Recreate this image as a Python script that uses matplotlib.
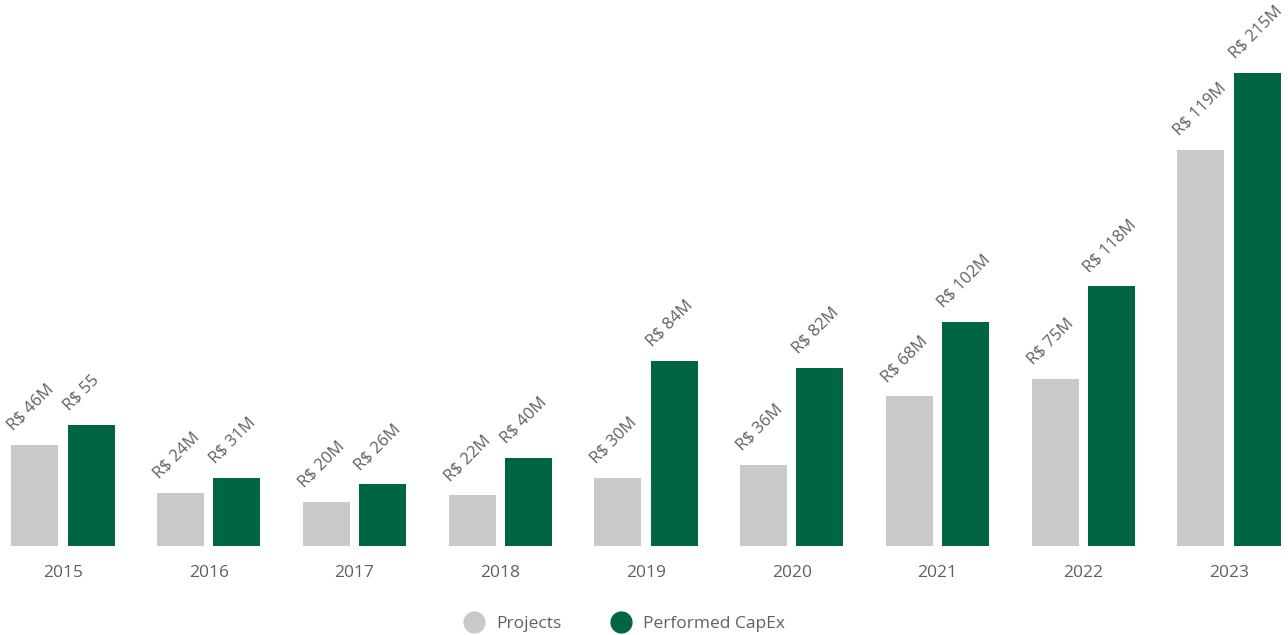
import numpy as np
import matplotlib
matplotlib.use("Agg")
import matplotlib.pyplot as plt
from matplotlib.lines import Line2D

plt.rcParams['font.family'] = ['Open Sans', 'DejaVu Sans']

# data
years = ['2015', '2016', '2017', '2018', '2019', '2020', '2021', '2022', '2023']
projects = [46, 24, 20, 23, 31, 37, 68, 76, 180]
capex = [55, 31, 28, 40, 84, 81, 102, 118, 215]
projects_labels = ['R$ 46M', 'R$ 24M', 'R$ 20M', 'R$ 22M', 'R$ 30M',
                   'R$ 36M', 'R$ 68M', 'R$ 75M', 'R$ 119M']
capex_labels = ['R$ 55', 'R$ 31M', 'R$ 26M', 'R$ 40M', 'R$ 84M',
                'R$ 82M', 'R$ 102M', 'R$ 118M', 'R$ 215M']

gray = '#c8c9ca'
green = '#006642'
txt = '#5f6062'

fig = plt.figure(figsize=(12.88, 6.35), dpi=100)
ax = fig.add_axes([0, 89 / 635, 1, 546 / 635])

x = np.arange(len(years))
w = 0.3226
off = (w + 0.062) / 2

b1 = ax.bar(x - off, projects, w, color=gray)
b2 = ax.bar(x + off, capex, w, color=green)

for bars, labels in ((b1, projects_labels), (b2, capex_labels)):
    for rect, lab in zip(bars, labels):
        ax.annotate(lab, (rect.get_x(), rect.get_height()),
                    xytext=(1, 10), textcoords='offset points',
                    rotation=45, rotation_mode='anchor',
                    ha='left', va='baseline', fontsize=12, color=txt)

ax.set_xlim(-63 / 145.75, (1288 - 63) / 145.75)
ax.set_ylim(0, 546 / 2.2)
ax.set_xticks(x)
ax.set_xticklabels(years, fontsize=12.5, color=txt)
ax.tick_params(axis='x', length=0, pad=14)
ax.set_yticks([])
for s in ax.spines.values():
    s.set_visible(False)

handles = [Line2D([], [], marker='o', linestyle='', markersize=15,
                  markerfacecolor=gray, markeredgecolor=gray, label='Projects'),
           Line2D([], [], marker='o', linestyle='', markersize=15,
                  markerfacecolor=green, markeredgecolor=green, label='Performed CapEx')]
fig.legend(handles=handles, loc='center', bbox_to_anchor=(0.482, 11 / 635),
           ncol=2, frameon=False, fontsize=12.5, labelcolor=txt,
           handletextpad=0.3, columnspacing=2.4)

fig.savefig('out.png', dpi=100)
